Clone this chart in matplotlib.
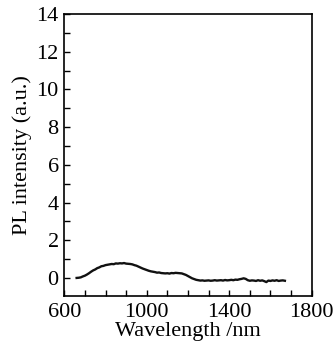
import matplotlib

matplotlib.use("Agg")

import matplotlib.pyplot as plt
from matplotlib.ticker import MultipleLocator

# PL spectrum (10 nm steps)
wavelength = list(range(660, 1680, 10))
intensity = [
    0.00, 0.01, 0.03, 0.08, 0.12, 0.18, 0.25, 0.33, 0.40, 0.45,
    0.52, 0.56, 0.62, 0.64, 0.68, 0.70, 0.72, 0.74, 0.73, 0.77,
    0.76, 0.78, 0.77, 0.79, 0.76, 0.75, 0.74, 0.72, 0.68, 0.65,
    0.60, 0.55, 0.50, 0.46, 0.42, 0.38, 0.35, 0.33, 0.31, 0.28,
    0.29, 0.26, 0.25, 0.24, 0.25, 0.23, 0.26, 0.25, 0.27, 0.26,
    0.25, 0.24, 0.20, 0.16, 0.10, 0.04, -0.02, -0.06, -0.10, -0.12,
    -0.14, -0.13, -0.15, -0.14, -0.13, -0.15, -0.14, -0.12, -0.14, -0.13,
    -0.12, -0.14, -0.11, -0.13, -0.12, -0.10, -0.12, -0.09, -0.10, -0.07,
    -0.05, -0.02, -0.05, -0.12, -0.15, -0.13, -0.14, -0.16, -0.12, -0.15,
    -0.13, -0.17, -0.22, -0.14, -0.16, -0.13, -0.15, -0.12, -0.16, -0.14,
    -0.13, -0.15,
]

x_labels = [600, 1000, 1400, 1800]
y_labels = [0, 2, 4, 6, 8, 10, 12, 14]

plt.rcParams["font.family"] = ["Liberation Serif"]

fig = plt.figure(figsize=(3.33, 3.44), dpi=100, facecolor="white")
ax = fig.add_axes([0.193, 0.140, 0.743, 0.819])

ax.plot(wavelength, intensity, color="#111111", linewidth=1.7)

ax.set_xlim(600, 1800)
ax.set_ylim(-0.95, 14)
ax.set_xticks(x_labels)
ax.set_yticks(y_labels)
ax.xaxis.set_minor_locator(MultipleLocator(100))
ax.yaxis.set_minor_locator(MultipleLocator(1))

ax.tick_params(axis="both", which="both", direction="in", length=4.5,
               width=1.0, top=False, right=False, labelsize=16, colors="black")
ax.tick_params(axis="x", which="major", pad=5)
ax.tick_params(axis="y", which="major", pad=4)

for side in ax.spines.values():
    side.set_linewidth(1.2)
    side.set_color("black")

ax.set_xlabel("Wavelength /nm", fontsize=16, labelpad=0)
ax.set_ylabel("PL intensity (a.u.)", fontsize=16, labelpad=3)

fig.savefig("out.png", dpi=100, facecolor="white")
plt.close(fig)
